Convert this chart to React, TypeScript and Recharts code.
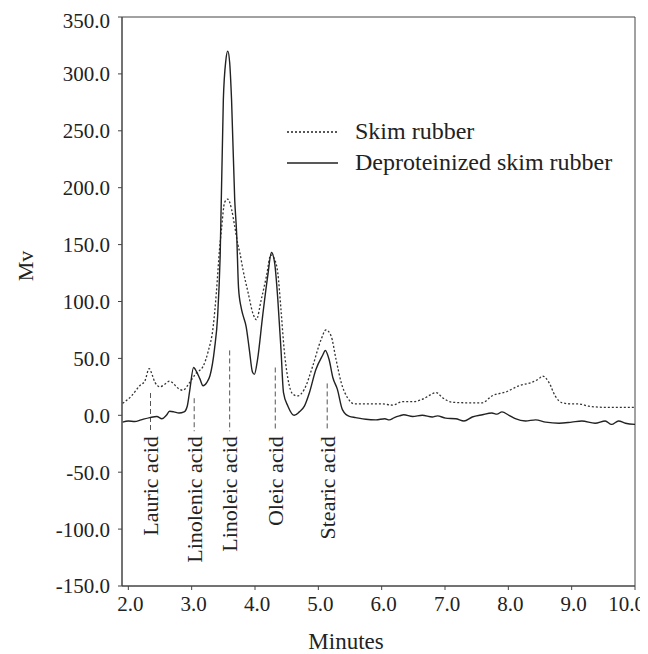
import { LineChart, Line, XAxis, YAxis, ReferenceLine, ReferenceArea, Legend } from "recharts";

const FONT = '"Liberation Serif", "Times New Roman", serif';
const INK = "#222";

// Skim rubber (dotted)
const skimTime = [
  1.91, 2.05, 2.18, 2.26, 2.33, 2.38, 2.42, 2.5, 2.57, 2.65, 2.71, 2.76, 2.86, 2.97, 3.07, 3.18, 3.26, 3.34,
  3.39, 3.44, 3.47, 3.52, 3.57, 3.63, 3.68, 3.73, 3.76, 3.81, 3.89, 3.97, 4.02, 4.1, 4.18, 4.25, 4.31, 4.36,
  4.41, 4.46, 4.52, 4.6, 4.67, 4.78, 4.91, 5.04, 5.12, 5.2, 5.28, 5.36, 5.46, 5.57, 5.75, 6.01, 6.17, 6.33,
  6.49, 6.64, 6.77, 6.86, 6.96, 7.11, 7.33, 7.59, 7.74, 7.96, 8.17, 8.37, 8.48, 8.54, 8.64, 8.74, 8.85, 9.0,
  9.11, 9.27, 9.53, 10.0,
];
const skimMv = [
  10.5, 17, 26, 30, 41, 35, 29, 25, 27, 30, 28, 25, 22, 29, 37, 43, 56, 78,
  108, 146, 163, 187, 190, 181, 166, 150, 143, 128, 108, 89, 84, 102, 122, 141, 137, 125,
  93, 58, 32, 18.5, 17, 23, 43, 66, 75, 70, 49, 29, 15.5, 10, 10, 10, 9, 12,
  12, 14, 18, 20, 15.5, 11.5, 11, 11, 17, 20.5, 26, 29, 32, 34.5, 29, 17, 11, 10,
  10, 8, 7, 7,
];

// Deproteinized skim rubber (solid)
const dspTime = [
  1.91, 2.0, 2.1, 2.2, 2.34, 2.45, 2.53, 2.6, 2.65, 2.72, 2.8, 2.88, 2.93, 2.97, 3.03, 3.08, 3.13, 3.18,
  3.24, 3.29, 3.36, 3.41, 3.45, 3.5, 3.54, 3.57, 3.6, 3.63, 3.68, 3.71, 3.74, 3.78, 3.81, 3.86, 3.91, 3.96,
  3.99, 4.04, 4.12, 4.2, 4.26, 4.31, 4.36, 4.41, 4.45, 4.52, 4.62, 4.7, 4.78, 4.86, 4.96, 5.07, 5.11, 5.17,
  5.23, 5.3, 5.38, 5.49, 5.59, 5.75, 5.91, 6.05, 6.12, 6.2, 6.28, 6.35, 6.49, 6.64, 6.8, 6.88, 7.01, 7.17,
  7.3, 7.43, 7.59, 7.74, 7.82, 7.9, 8.01, 8.11, 8.27, 8.43, 8.59, 8.8, 9.0, 9.16, 9.37, 9.53, 9.63, 9.74,
  9.85, 10.0,
];
const dspMv = [
  -6, -5, -5.5, -4, -2, -1, -3, 0, 3.5, 3, 2, 3, 8, 22, 42, 38, 32, 26,
  29, 35, 58, 87, 140, 277, 312, 320, 310, 277, 189, 160, 112, 95, 88, 78, 58, 38,
  36, 49, 87, 122, 143, 134, 102, 58, 20, 8, 0, 3, 8, 20, 40, 53, 57, 49,
  33, 23, 5, -1, -2, -3.5, -4, -3, -4, -2, -0.5, 0.5, -1, 0, -1.5, -0.5, -2.5, -3,
  -5, -1.5, 0.5, 2, 1, 3, 0, -3, -5, -4, -6, -7, -6, -5, -7, -5, -8, -5,
  -7, -8,
];

const xTicks = [2, 3, 4, 5, 6, 7, 8, 9, 10];
const yTicks = [-150, -100, -50, 0, 50, 100, 150, 200, 250, 300, 350];

const acidNames = ["Lauric acid", "Linolenic acid", "Linoleic acid", "Oleic acid", "Stearic acid"];
const acidTime = [2.35, 3.04, 3.6, 4.32, 5.14];
const acidTop = [19.6, 15, 57, 42, 28];
const acidBottom = -14;

const skimData = skimTime.map((t, i) => ({ t, mv: skimMv[i] }));
const dspData = dspTime.map((t, i) => ({ t, mv: dspMv[i] }));

const legendRows = [
  { name: "Skim rubber", dash: "2 2" },
  { name: "Deproteinized skim rubber", dash: undefined },
];

function LegendBox() {
  return (
    <div style={{ fontFamily: FONT, fontSize: 24, color: INK }}>
      {legendRows.map((r) => (
        <div key={r.name} style={{ display: "flex", alignItems: "center", height: 31, whiteSpace: "nowrap" }}>
          <svg width={51} height={4}>
            <line x1={0} y1={2} x2={51} y2={2} stroke={INK} strokeWidth={r.dash ? 1.3 : 1.5} strokeDasharray={r.dash} />
          </svg>
          <span style={{ marginLeft: 17, lineHeight: "31px" }}>{r.name}</span>
        </div>
      ))}
    </div>
  );
}

function XTick(props: any) {
  const { x, y, payload } = props;
  // last label is pulled in so it stays inside the frame
  const isLast = payload.value === xTicks[xTicks.length - 1];
  return (
    <text
      x={isLast ? x + 10 : x + 2}
      y={y}
      dy="0.71em"
      textAnchor={isLast ? "end" : "middle"}
      fontFamily={FONT}
      fontSize={21}
      fill={INK}
    >
      {Number(payload.value).toFixed(1)}
    </text>
  );
}

function AcidLabel(props: any) {
  const vb = props.viewBox || {};
  const x = vb.x ?? vb.x1;
  const bottom = vb.height != null ? vb.y + vb.height : Math.max(vb.y1, vb.y2);
  const y = bottom + 5;
  return (
    <text
      x={x}
      y={y}
      dy="0.35em"
      transform={`rotate(-90, ${x}, ${y})`}
      textAnchor="end"
      fontFamily={FONT}
      fontSize={22}
      fill={INK}
    >
      {props.name}
    </text>
  );
}

export default function App() {
  return (
    <div style={{ width: 640, height: 646 }}>
      <LineChart width={640} height={646} margin={{ top: 9, right: 13, bottom: 0, left: 0 }}>
        <XAxis
          type="number"
          dataKey="t"
          domain={[1.9, 10]}
          allowDataOverflow
          ticks={xTicks}
          height={68}
          tickSize={4}
          tickMargin={6}
          stroke="#444"
          tick={<XTick />}
          label={(p: any) => (
            <text x={p.viewBox.x + 224} y={p.viewBox.y + 55} dy="0.35em" textAnchor="middle" fontFamily={FONT} fontSize={23} fill={INK}>
              Minutes
            </text>
          )}
        />
        <YAxis
          type="number"
          domain={[-150, 350]}
          allowDataOverflow
          ticks={yTicks}
          tickFormatter={(v: number) => v.toFixed(1)}
          width={114}
          tickSize={4}
          tickMargin={8}
          stroke="#444"
          tick={{ fill: INK, fontSize: 21, fontFamily: FONT }}
          label={(p: any) => {
            const x = p.viewBox.x + 17;
            const y = p.viewBox.y + 249;
            return (
              <text x={x} y={y} dy="0.35em" transform={`rotate(-90, ${x}, ${y})`} textAnchor="middle" fontFamily={FONT} fontSize={22} fill={INK}>
                Mv
              </text>
            );
          }}
        />
        <ReferenceArea x1={1.9} x2={10} y1={-150} y2={350} fill="none" stroke="#444" strokeWidth={1} ifOverflow="visible" />
        {acidNames.map((name, i) => (
          <ReferenceLine
            key={name}
            segment={[
              { x: acidTime[i], y: acidTop[i] },
              { x: acidTime[i], y: acidBottom },
            ]}
            stroke="#555"
            strokeDasharray="5 3"
            ifOverflow="visible"
            label={(p: any) => <AcidLabel {...p} name={name} />}
          />
        ))}
        <Line
          data={skimData}
          dataKey="mv"
          name="Skim rubber"
          type="monotone"
          stroke="#333"
          strokeWidth={1.3}
          strokeDasharray="2 2"
          dot={false}
          isAnimationActive={false}
        />
        <Line
          data={dspData}
          dataKey="mv"
          name="Deproteinized skim rubber"
          type="monotone"
          stroke={INK}
          strokeWidth={1.4}
          dot={false}
          isAnimationActive={false}
        />
        <Legend
          layout="vertical"
          align="center"
          verticalAlign="middle"
          content={() => <LegendBox />}
          wrapperStyle={{ position: "absolute", left: 279, top: 108, width: "auto" }}
        />
      </LineChart>
    </div>
  );
}
